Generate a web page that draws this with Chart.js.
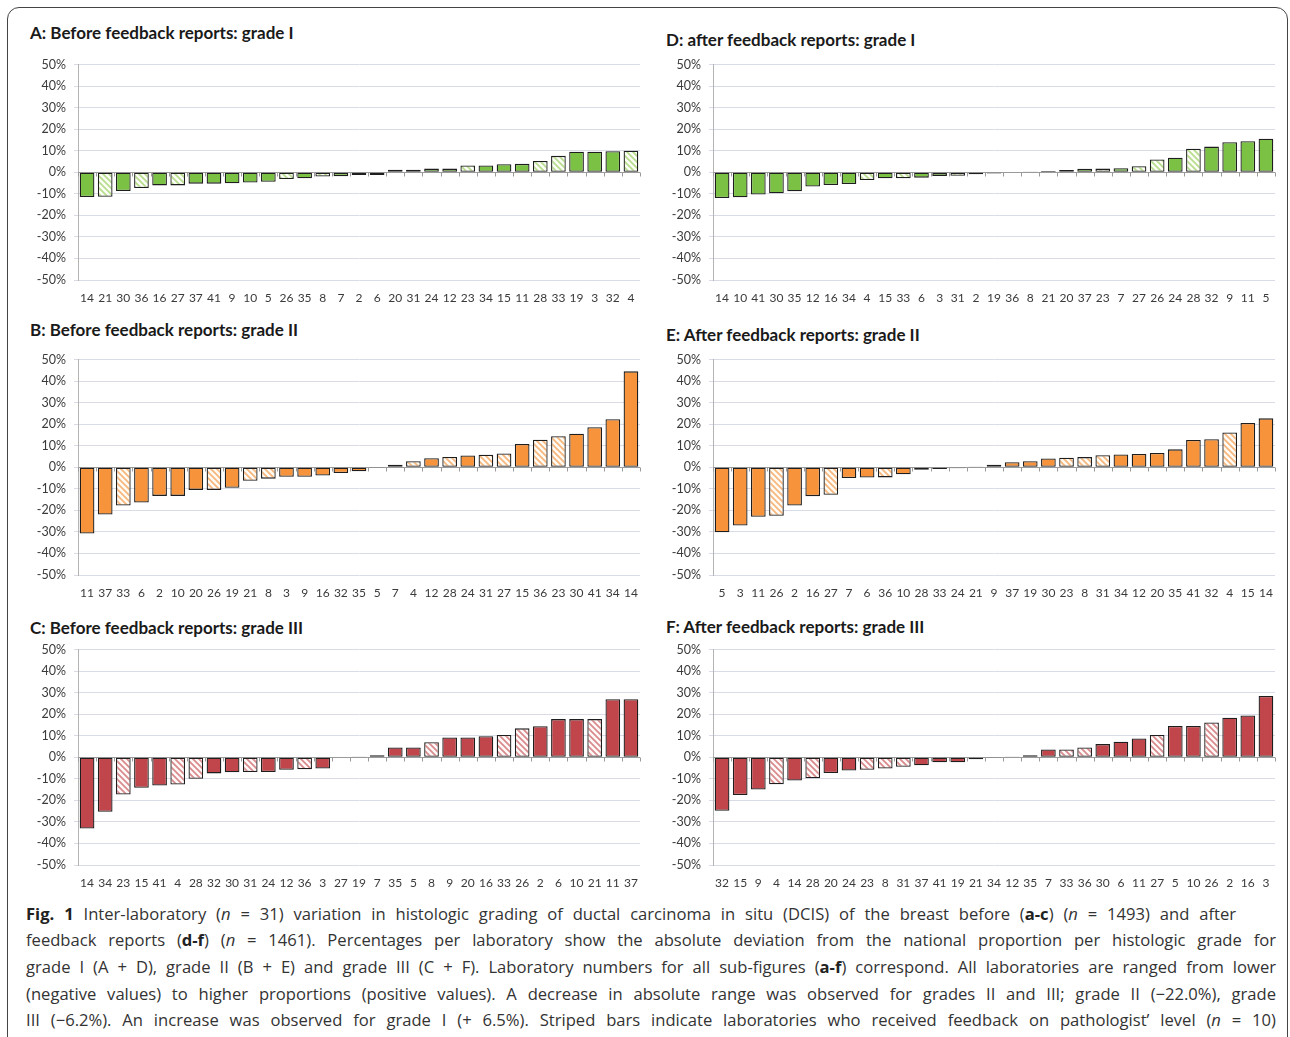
<!DOCTYPE html>
<html><head><meta charset="utf-8">
<script src="https://cdn.jsdelivr.net/npm/chart.js@4.4.1/dist/chart.umd.min.js"></script>
<style>
body{margin:0;background:#fff;width:1290px;height:1037px;position:relative;overflow:hidden;font-family:Lato,sans-serif;}
#frame{position:absolute;left:7px;top:7px;width:1279px;height:1080px;border:1px solid #444;border-radius:12px;}
.ttl{position:absolute;font-weight:bold;font-size:17px;font-family:Lato,sans-serif;color:#1a1a1a;line-height:20px;white-space:nowrap;}
canvas{position:absolute;}
.cap{position:absolute;left:26px;width:1250px;font-family:'Open Sans',sans-serif;font-size:16.6px;color:#333;text-align:justify;text-align-last:justify;line-height:22px;}
.cap b{color:#222;}
</style></head>
<body>
<div id="frame"></div>
<div class="ttl" style="left:30px;top:23px">A: Before feedback reports: grade I</div>
<div class="ttl" style="left:666px;top:30px">D: after feedback reports: grade I</div>
<div class="ttl" style="left:30px;top:320px">B: Before feedback reports: grade II</div>
<div class="ttl" style="left:666px;top:325px">E: After feedback reports: grade II</div>
<div class="ttl" style="left:30px;top:618px">C: Before feedback reports: grade III</div>
<div class="ttl" style="left:666px;top:617px">F: After feedback reports: grade III</div>
<div class="cap" style="top:903px;width:1210px"><b>Fig. 1</b> Inter-laboratory (<i>n</i> = 31) variation in histologic grading of ductal carcinoma in situ (DCIS) of the breast before (<b>a-c</b>) (<i>n</i> = 1493) and after</div>
<div class="cap" style="top:929px">feedback reports (<b>d-f</b>) (<i>n</i> = 1461). Percentages per laboratory show the absolute deviation from the national proportion per histologic grade for</div>
<div class="cap" style="top:956px">grade I (A + D), grade II (B + E) and grade III (C + F). Laboratory numbers for all sub-figures (<b>a-f</b>) correspond. All laboratories are ranged from lower</div>
<div class="cap" style="top:983px">(negative values) to higher proportions (positive values). A decrease in absolute range was observed for grades II and III; grade II (−22.0%), grade</div>
<div class="cap" style="top:1009px">III (−6.2%). An increase was observed for grade I (+ 6.5%). Striped bars indicate laboratories who received feedback on pathologist’ level (<i>n</i> = 10)</div>
<script>
// Laboratories that received feedback on pathologist level (striped bars)
const stripedLabs = [4, 8, 21, 23, 26, 27, 28, 31, 33, 36];

// A: Before feedback, grade I
const labelsA = ['14','21','30','36','16','27','37','41','9','10','5','26','35','8','7','2','6','20','31','24','12','23','34','15','11','28','33','19','3','32','4'];
const valuesA = [-11.5,-11.4,-8.7,-7.3,-6.1,-6.1,-5.3,-5.3,-5.1,-4.8,-4.4,-3.1,-2.8,-2.0,-1.8,-1.3,-1.3,1.2,1.2,1.7,1.7,3.1,3.1,3.7,3.9,5.2,7.6,9.5,9.5,9.8,10.0];

// D: After feedback, grade I
const labelsD = ['14','10','41','30','35','12','16','34','4','15','33','6','3','31','2','19','36','8','21','20','37','23','7','27','26','24','28','32','9','11','5'];
const valuesD = [-12.0,-11.6,-10.3,-9.8,-8.8,-6.6,-5.9,-5.5,-3.6,-2.8,-2.8,-2.5,-1.7,-1.6,-0.9,-0.6,-0.2,0.3,0.6,1.1,1.6,1.7,1.9,2.8,5.9,6.7,10.9,11.9,13.9,14.4,15.6];

// B: Before feedback, grade II
const labelsB = ['11','37','33','6','2','10','20','26','19','21','8','3','9','16','32','35','5','7','4','12','28','24','31','27','15','36','23','30','41','34','14'];
const valuesB = [-30.8,-21.9,-17.8,-16.4,-13.3,-13.3,-10.5,-10.5,-9.5,-6.3,-5.3,-4.4,-4.4,-3.8,-2.7,-1.9,-0.3,1.2,2.8,4.2,4.8,5.5,5.8,6.4,10.8,12.8,14.4,15.6,18.6,22.3,44.5];

// E: After feedback, grade II
const labelsE = ['5','3','11','26','2','16','27','7','6','36','10','28','33','24','21','9','37','19','30','23','8','31','34','12','20','35','41','32','4','15','14'];
const valuesE = [-30.2,-27.0,-23.0,-22.5,-17.8,-13.4,-12.8,-5.0,-4.8,-4.7,-3.3,-1.2,-0.8,-0.5,0.1,1.2,2.3,2.8,4.1,4.4,4.7,5.6,5.9,6.2,6.6,8.3,12.7,13.0,16.1,20.5,22.7];

// C: Before feedback, grade III
const labelsC = ['14','34','23','15','41','4','28','32','30','31','24','12','36','3','27','19','7','35','5','8','9','20','16','33','26','2','6','10','21','11','37'];
const valuesC = [-33.1,-25.3,-17.3,-14.2,-13.1,-12.7,-10.0,-7.5,-7.0,-6.9,-6.9,-5.8,-5.6,-5.2,-0.2,0.1,0.9,4.5,4.5,7.0,9.2,9.2,9.8,10.3,13.4,14.4,17.7,17.7,17.7,26.9,26.9];

// F: After feedback, grade III
const labelsF = ['32','15','9','4','14','28','20','24','23','8','31','37','41','19','21','34','12','35','7','33','36','30','6','11','27','5','10','26','2','16','3'];
const valuesF = [-24.8,-17.5,-15.0,-12.5,-10.8,-9.8,-7.3,-6.2,-5.8,-5.2,-4.4,-3.7,-2.3,-2.3,-0.9,-0.1,0.3,0.9,3.6,3.6,4.5,6.1,7.2,8.7,10.3,14.5,14.5,16.1,18.3,19.4,28.4];

const yMin = -50, yMax = 50, yStep = 10;

const GREEN = '#7BC143', ORANGE = '#F7933B', RED = '#C0464B';

function stripe(color, bg) {
  const c = document.createElement('canvas');
  c.width = 6; c.height = 6;
  const x = c.getContext('2d');
  x.fillStyle = bg; x.fillRect(0, 0, 6, 6);
  x.strokeStyle = color; x.lineWidth = 1.7;
  x.beginPath();
  x.moveTo(-1, -1); x.lineTo(7, 7);
  x.moveTo(-1, 5); x.lineTo(1, 7);
  x.moveTo(5, -1); x.lineTo(7, 1);
  x.stroke();
  return x.createPattern(c, 'repeat');
}

const panels = [
  {labels: labelsA, values: valuesA, color: GREEN, pat: stripe('#b7dc8c', '#fbfdf6'), L: 78, R: 640, T: 64, B: 280},
  {labels: labelsD, values: valuesD, color: GREEN, pat: stripe('#b7dc8c', '#fbfdf6'), L: 713, R: 1275, T: 64, B: 280},
  {labels: labelsB, values: valuesB, color: ORANGE, pat: stripe('#f6b67c', '#fffaf3'), L: 78, R: 640, T: 359, B: 575},
  {labels: labelsE, values: valuesE, color: ORANGE, pat: stripe('#f6b67c', '#fffaf3'), L: 713, R: 1275, T: 359, B: 575},
  {labels: labelsC, values: valuesC, color: RED, pat: stripe('#d98a8c', '#fff8f8'), L: 78, R: 640, T: 649, B: 865},
  {labels: labelsF, values: valuesF, color: RED, pat: stripe('#d98a8c', '#fff8f8'), L: 713, R: 1275, T: 649, B: 865}
];

const zeroAxis = {
  id: 'zeroAxis',
  beforeDatasetsDraw(chart) {
    const {ctx, chartArea: a, scales: {x, y}} = chart;
    const y0 = Math.round(y.getPixelForValue(0)) + 0.5;
    ctx.save();
    ctx.strokeStyle = '#9a9a9a'; ctx.lineWidth = 1;
    ctx.beginPath();
    ctx.moveTo(a.left, y0); ctx.lineTo(a.right, y0);
    const n = chart.data.labels.length;
    for (let i = 0; i <= n; i++) {
      const px = Math.round(x.getPixelForValue(i - 0.5)) + 0.5;
      ctx.moveTo(px, y0); ctx.lineTo(px, y0 + 4);
    }
    ctx.stroke();
    ctx.restore();
  }
};

const YW = 58, XH = 30, PT = 10, PR = 6;

function build(cv, p) {
  return new Chart(cv, {
    type: 'bar',
    data: {
      labels: p.labels,
      datasets: [{
        data: p.values,
        backgroundColor: p.labels.map(l => stripedLabs.includes(+l) ? p.pat : p.color),
        borderColor: '#1e1e1e',
        borderWidth: 1.3,
        borderSkipped: false,
        barPercentage: 0.81,
        categoryPercentage: 1
      }]
    },
    options: {
      responsive: false, maintainAspectRatio: false, animation: false, devicePixelRatio: 1,
      layout: {padding: {top: PT, right: PR, bottom: 0, left: 0}},
      plugins: {legend: {display: false}, tooltip: {enabled: false}},
      scales: {
        x: {
          grid: {display: false, drawTicks: false},
          border: {display: false},
          ticks: {autoSkip: false, maxRotation: 0, minRotation: 0, padding: 11, color: '#3a3a3a', font: {family: 'Lato', size: 12}},
          afterFit(s) { s.height = XH; }
        },
        y: {
          min: yMin, max: yMax,
          ticks: {stepSize: yStep, callback: v => v + '%', padding: 8, color: '#3a3a3a', font: {family: 'Lato', size: 12.5}},
          grid: {color: '#d9dce6', tickLength: 4},
          border: {display: true, color: '#b4b4b4'},
          afterFit(s) { s.width = YW; }
        }
      }
    },
    plugins: [zeroAxis]
  });
}

function place(cv, left, top, w, h) {
  cv.width = w; cv.height = h;
  cv.style.left = left + 'px'; cv.style.top = top + 'px';
  cv.style.width = w + 'px'; cv.style.height = h + 'px';
}

panels.forEach(p => {
  const cv = document.createElement('canvas');
  let left = p.L - YW, top = p.T - PT;
  let w = p.R + PR - left, h = p.B + XH - top;
  place(cv, left, top, w, h);
  document.body.appendChild(cv);
  let chart = build(cv, p);
  // align the plot area with the intended frame, then rebuild
  const ca = chart.chartArea;
  const nh = h + (p.B - p.T) - (ca.bottom - ca.top);
  const nw = w + (p.R - p.L) - (ca.right - ca.left);
  const nl = p.L - ca.left, nt = p.T - ca.top;
  chart.destroy();
  place(cv, nl, nt, nw, nh);
  build(cv, p);
});
</script>
</body></html>
